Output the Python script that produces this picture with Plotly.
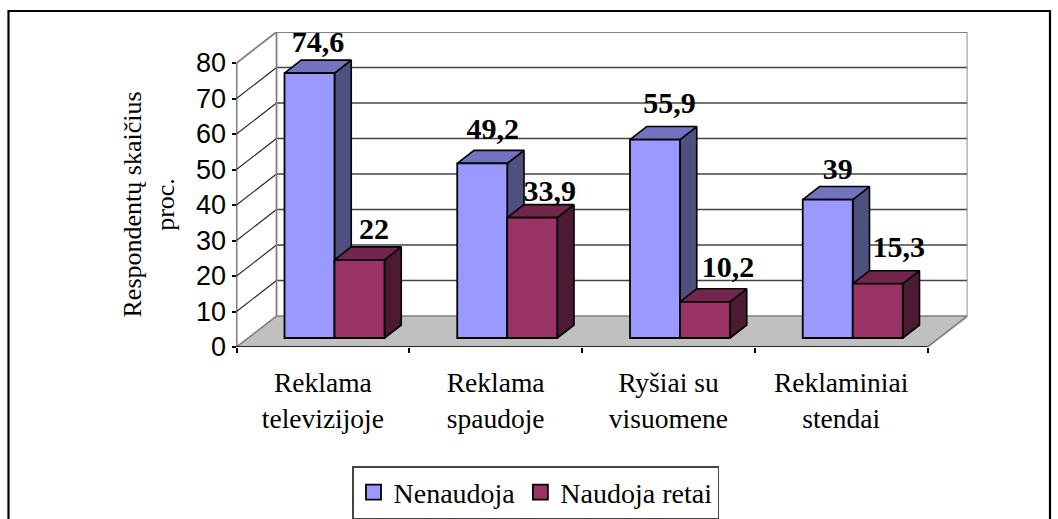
import plotly.graph_objects as go

categories = ["Reklama<br>televizijoje", "Reklama<br>spaudoje", "Ryšiai su<br>visuomene", "Reklaminiai<br>stendai"]
nenaudoja = [74.6, 49.2, 55.9, 39]
naudoja_retai = [22, 33.9, 10.2, 15.3]
labels_nenaudoja = ["74,6", "49,2", "55,9", "39"]
labels_naudoja = ["22", "33,9", "10,2", "15,3"]
y_ticks = [0, 10, 20, 30, 40, 50, 60, 70, 80]

W, H = 1058, 519
PX_L, PX_R_FRONT, PX_B = 236.5, 927.5, 347
PX_PER_CAT = (PX_R_FRONT - PX_L) / 4
PX_PER_VAL = 3.55
DEPTH_PX_X, DEPTH_PX_Y = 40, 31
DX = DEPTH_PX_X / PX_PER_CAT   # wall depth, category units
DY = DEPTH_PX_Y / PX_PER_VAL   # wall depth, value units
XMAX, YMAX = 4 + DX, 80 + DY
BAR_W = 50 / PX_PER_CAT
D_FRONT = 9 / DEPTH_PX_Y      # bar front plane, fraction of floor depth
D_SIZE = 13 / DEPTH_PX_Y      # bar depth, fraction of floor depth
BASE = D_FRONT * DY
OFF = D_FRONT * DX
# label nudges in pixels (right, up) relative to the top of each bar
NUDGE_A = [(8.5, 0.5), (10.5, 4), (14.5, 6), (10, 0)]
NUDGE_B = [(14.5, 0), (17.5, -4), (23, 4), (21, 6)]

fig = go.Figure()

def poly(xs, ys, fill, line="black", lw=1.6):
    fig.add_trace(go.Scatter(x=xs, y=ys, mode="lines", fill="toself", fillcolor=fill,
                             line=dict(color=line, width=lw), showlegend=False, hoverinfo="skip",
                             xaxis="x", yaxis="y", cliponaxis=False))

def seg(xs, ys, color, lw, axes=("x", "y")):
    fig.add_trace(go.Scatter(x=xs, y=ys, mode="lines", line=dict(color=color, width=lw), showlegend=False,
                             hoverinfo="skip", xaxis=axes[0], yaxis=axes[1], cliponaxis=False))

# floor
poly([0, 4, 4 + DX, DX, 0], [0, 0, DY, DY, 0], "#C0C0C0", "#808080", 1.6)
# gridlines on side and back walls
for v in y_ticks[1:-1]:
    seg([0, DX], [v, v + DY], "#222222", 1.1)
    seg([DX, 4 + DX], [v + DY, v + DY], "#444444", 1.4)
# wall outlines
seg([0, DX, 4 + DX, 4 + DX], [80, 80 + DY, 80 + DY, DY], "#808080", 1.8)
seg([DX, DX], [DY, 80 + DY], "#808080", 1.8)

FRONT = ["#9999FF", "#993366"]
SIDE = ["#50507F", "#4D1A33"]
TOP = ["#7373BF", "#73264D"]
ser = [nenaudoja, naudoja_retai]
for i in range(4):
    for s in range(2):
        x0 = i + 0.5 - BAR_W + s * BAR_W + OFF
        x1 = x0 + BAR_W
        top = BASE + ser[s][i]
        dx, dy = D_SIZE * DX, D_SIZE * DY
        poly([x1, x1 + dx, x1 + dx, x1, x1], [BASE, BASE + dy, top + dy, top, BASE], SIDE[s])
        poly([x0, x0 + dx, x1 + dx, x1, x0], [top, top + dy, top + dy, top, top], TOP[s])

xs_a = [i + 0.5 - BAR_W / 2 + OFF for i in range(4)]
xs_b = [i + 0.5 + BAR_W / 2 + OFF for i in range(4)]
for name, xs, vals, col in [("Nenaudoja", xs_a, nenaudoja, FRONT[0]), ("Naudoja retai", xs_b, naudoja_retai, FRONT[1])]:
    fig.add_trace(go.Bar(name=name, x=xs, y=vals, base=[BASE] * 4, width=[BAR_W] * 4, showlegend=False,
                         marker=dict(color=col, line=dict(color="black", width=1.8)),
                         xaxis="x2", yaxis="y2", hoverinfo="skip"))
    # legend key at the reference's larger size
    fig.add_trace(go.Scatter(name=name, x=[None], y=[None], mode="markers", xaxis="x2", yaxis="y2",
                             marker=dict(symbol="square", size=15, color=col, line=dict(color="black", width=1.8))))

# front axis lines
seg([0, 4], [0, 0], "black", 1.5, ("x2", "y2"))
seg([0, 0], [0, 80], "black", 1.5, ("x2", "y2"))

# data labels
for xs, vals, labs, nudge in [(xs_a, nenaudoja, labels_nenaudoja, NUDGE_A), (xs_b, naudoja_retai, labels_naudoja, NUDGE_B)]:
    fig.add_trace(go.Scatter(x=[x + n[0] / PX_PER_CAT for x, n in zip(xs, nudge)],
                             y=[BASE + v + D_SIZE * DY + n[1] / PX_PER_VAL for v, n in zip(vals, nudge)],
                             mode="text", text=labs,
                             textposition="top center", cliponaxis=False, showlegend=False, hoverinfo="skip",
                             textfont=dict(family="Liberation Serif", size=30, color="black", weight="bold"),
                             xaxis="x2", yaxis="y2"))

fig.update_layout(
    width=W, height=H, autosize=False, margin=dict(l=0, r=0, t=0, b=0, autoexpand=False),
    paper_bgcolor="white", plot_bgcolor="white", barmode="overlay",
    xaxis=dict(domain=[PX_L / W, (PX_R_FRONT + DEPTH_PX_X) / W], range=[0, XMAX], showgrid=False, zeroline=False,
               showline=False, tickmode="array", tickvals=[i + 0.5 for i in range(4)], ticktext=categories,
               ticks="outside", ticklen=11, tickcolor="rgba(0,0,0,0)",
               tickfont=dict(family="Liberation Serif", size=27.5, color="black"),
               minor=dict(tickmode="array", tickvals=[0, 1, 2, 3, 4], ticks="outside", ticklen=5,
                          tickcolor="black", tickwidth=1.5, showgrid=False)),
    yaxis=dict(domain=[1 - PX_B / H, 1 - (PX_B - YMAX * PX_PER_VAL) / H], range=[0, YMAX], showgrid=False,
               zeroline=False, showline=False, tickmode="array", tickvals=y_ticks, ticks="outside", ticklen=4,
               tickcolor="black", tickwidth=1.5,
               tickfont=dict(family="Liberation Sans", size=27, color="black")),
    xaxis2=dict(overlaying="x", range=[0, XMAX], visible=False),
    yaxis2=dict(overlaying="y", range=[0, YMAX], visible=False),
    showlegend=True,
    legend=dict(x=352 / W, y=1 - 466 / H, xanchor="left", yanchor="top",
                orientation="h", bgcolor="white", bordercolor="#444444", borderwidth=1.5,
                font=dict(family="Liberation Serif", size=28, color="black")),
    annotations=[dict(text="Respondentų skaičius<br>proc.", xref="paper", yref="paper", x=149 / W, y=1 - 204.5 / H,
                      xanchor="center", yanchor="middle",
                      showarrow=False, textangle=-90, font=dict(family="Liberation Serif", size=26, color="black"))],
    shapes=[dict(type="path", xref="paper", yref="paper",
                 path=f"M {8.5/W} 0 L {8.5/W} {1-11/H} L {1050/W} {1-11/H} L {1050/W} 0",
                 line=dict(color="black", width=2.2))],
)
fig.write_html("out.html", config=dict(displayModeBar=False), post_script="document.body.style.margin='0';")
